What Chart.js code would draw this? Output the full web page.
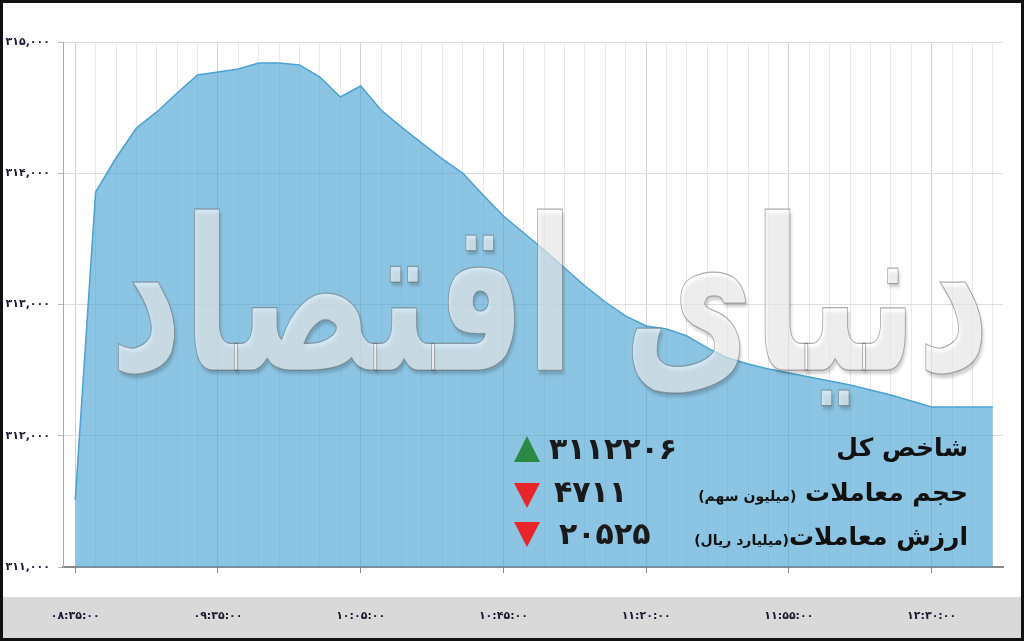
<!DOCTYPE html>
<html>
<head>
<meta charset="utf-8">
<script src="https://cdn.jsdelivr.net/npm/chart.js@4/dist/chart.umd.min.js"></script>
<style>
  html, body { margin:0; padding:0; background:#fff; }
  #wrap { position:relative; width:1024px; height:641px; overflow:hidden; font-family:"DejaVu Sans", sans-serif; }
  #c { position:absolute; left:0; top:0; }
  .wm { position:absolute; left:110px; top:140px; white-space:nowrap; direction:rtl; font-weight:bold; font-size:170px; line-height:250px;
        color:rgba(255,255,255,0.6); -webkit-text-stroke:1px rgba(90,90,90,0.5); text-shadow:2px 3px 3px rgba(0,0,0,0.18); transform-origin:0 0; }
  .lab { position:absolute; direction:rtl; white-space:nowrap; font-weight:bold; color:#111; line-height:40px; height:40px; font-size:25px; }
  .lab small { font-size:14px; font-weight:bold; }
  .num { position:absolute; direction:ltr; white-space:nowrap; font-weight:bold; color:#1a1a1a; font-size:30px; line-height:40px; height:40px; letter-spacing:2px; }
  .up { position:absolute; width:0; height:0; border-left:13px solid transparent; border-right:13px solid transparent; border-bottom:26px solid #2a8a45; }
  .down { position:absolute; width:0; height:0; border-left:13px solid transparent; border-right:13px solid transparent; border-top:25px solid #e8262a; }
</style>
</head>
<body>
<div id="wrap">
  <canvas id="c" width="1024" height="641"></canvas>
  <div class="wm" id="wm">دنیای اقتصاد</div>
  <div class="lab" style="right:56px; top:428px;">شاخص کل</div>
  <div class="lab" style="right:56px; top:473px;">حجم معاملات <small>(میلیون سهم)</small></div>
  <div class="lab" style="right:56px; top:517px;">ارزش معاملات<small>(میلیارد ریال)</small></div>
  <div class="num" style="left:549px; top:429px;">۳۱۱۲۲۰۶</div>
  <div class="num" style="left:554px; top:472px;">۴۷۱۱</div>
  <div class="num" style="left:559px; top:514px;">۲۰۵۲۵</div>
  <div class="up" style="left:514px; top:436px;"></div>
  <div class="down" style="left:514px; top:483px;"></div>
  <div class="down" style="left:514px; top:522px;"></div>
</div>
<script>
// ---- data ----
const xTickLabels = ['۰۸:۳۵:۰۰','۰۹:۳۵:۰۰','۱۰:۰۵:۰۰','۱۰:۴۵:۰۰','۱۱:۲۰:۰۰','۱۱:۵۵:۰۰','۱۲:۳۰:۰۰'];
const slotsPerLabel = 7;
const indexValues = [
  311510, 313857, 314116, 314345, 314467, 314611, 314749, 314771, 314794, 314840,
  314840, 314825, 314733, 314581, 314665, 314482, 314352, 314230, 314109, 314002,
  313834, 313674, 313545, 313415, 313278, 313141, 313019, 312912, 312836, 312813,
  312760, 312669, 312592, 312547, 312509, 312478, 312448, 312417, 312387, 312349,
  312311, 312265, 312219, 312219, 312219, 312219
];
const yMin = 311000, yMax = 315000, yStep = 1000;

const faDigits = '۰۱۲۳۴۵۶۷۸۹';
function toFa(s) { return String(s).replace(/[0-9]/g, d => faDigits[+d]); }
function fmt(v) { return toFa(v.toString().replace(/\B(?=(\d{3})+(?!\d))/g, ',')); }

const frame = {
  id: 'frame',
  beforeDraw(chart) {
    const c = chart.ctx;
    c.save();
    c.fillStyle = '#ffffff';
    c.fillRect(0, 0, chart.width, chart.height);
    c.fillStyle = '#d9d9d9';
    c.fillRect(0, 597, chart.width, chart.height - 597);
    c.restore();
  },
  afterDraw(chart) {
    const c = chart.ctx;
    c.save();
    c.strokeStyle = '#111';
    c.lineWidth = 3;
    c.strokeRect(1.5, 1.5, chart.width - 3, chart.height - 3);
    c.restore();
  }
};

new Chart(document.getElementById('c'), {
  type: 'line',
  data: {
    datasets: [{
      data: indexValues.map((v, i) => ({ x: i, y: v })),
      fill: 'start',
      backgroundColor: 'rgba(70,160,210,0.62)',
      borderColor: '#4aa2d2',
      borderWidth: 1.5,
      pointRadius: 0,
      tension: 0
    }]
  },
  options: {
    responsive: false,
    animation: false,
    devicePixelRatio: 1,
    layout: { padding: { left: 0, right: 21, top: 42, bottom: 0 } },
    plugins: { legend: { display: false }, tooltip: { enabled: false } },
    scales: {
      x: {
        type: 'linear',
        min: -0.6,
        max: 45.5,
        afterBuildTicks: s => { s.ticks = indexValues.map((v, i) => ({ value: i })); },
        afterFit: s => { s.height = 74; s.paddingLeft = 0; s.paddingRight = 0; },
        ticks: {
          autoSkip: false, maxRotation: 0, minRotation: 0, padding: 37,
          color: '#1a1a33', font: { family: 'DejaVu Sans', size: 11, weight: 'bold' },
          callback: v => (v % slotsPerLabel === 0 ? xTickLabels[v / slotsPerLabel] : '')
        },
        grid: {
          color: c => (c.tick && c.tick.value % slotsPerLabel === 0 ? '#d2d2d2' : '#e9e9e9'),
          lineWidth: 1,
          tickLength: 6,
          tickColor: c => (c.tick && c.tick.value % slotsPerLabel === 0 ? '#888' : 'rgba(0,0,0,0)')
        },
        border: { color: '#8a8a8a', width: 2 }
      },
      y: {
        min: yMin, max: yMax,
        afterFit: s => { s.width = 63; },
        ticks: {
          stepSize: yStep, padding: 8,
          color: '#1a1a33', font: { family: 'DejaVu Sans', size: 11, weight: 'bold' },
          callback: v => fmt(v)
        },
        grid: { color: '#dedede', tickLength: 5, tickColor: '#bbb' },
        border: { color: '#aaa', width: 1 }
      }
    }
  },
  plugins: [frame]
});

// fit the watermark across the plot
const wm = document.getElementById('wm');
const w = wm.scrollWidth;
wm.style.transform = 'scale(' + (880 / w) + ', 1.25)';
</script>
</body>
</html>
